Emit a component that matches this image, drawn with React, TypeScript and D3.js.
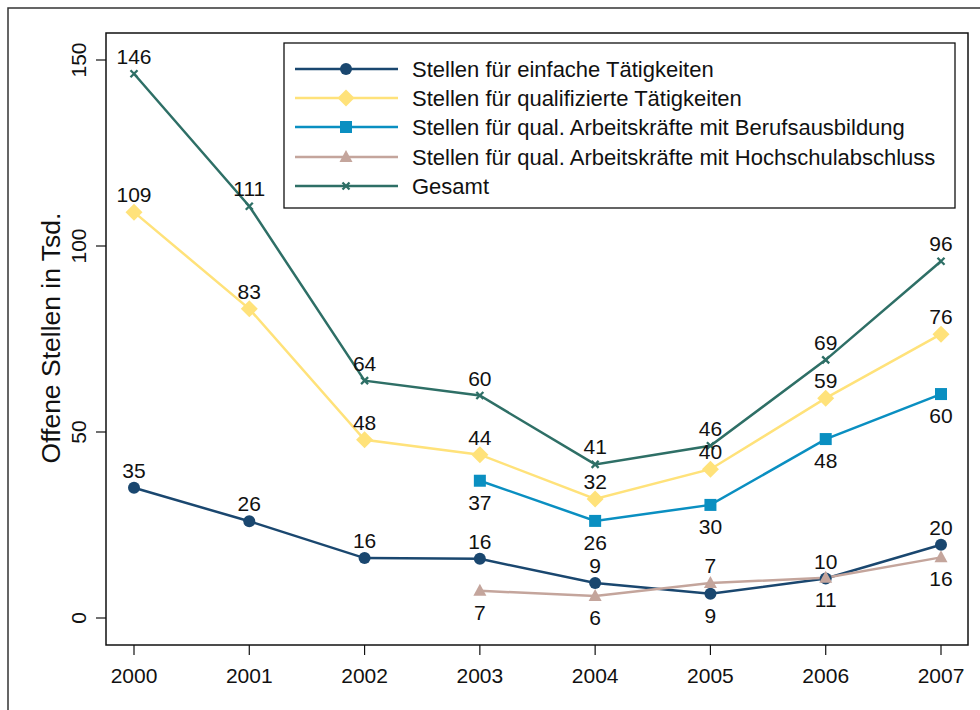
import React from "react";
import * as d3 from "d3";

const years = [2000, 2001, 2002, 2003, 2004, 2005, 2006, 2007];
const yTicks = [0, 50, 100, 150];

const einfach = [35, 26, 16.1, 15.9, 9.4, 6.5, 10.6, 19.7];
const einfachLabels = ["35", "26", "16", "16", "9", "9", "10", "20"];
const einfachPos = ["a", "a", "a", "a", "a", "b", "a", "a"];

const qualifiziert = [109.1, 83.1, 47.9, 43.9, 32, 40, 59.1, 76.3];
const qualifiziertLabels = ["109", "83", "48", "44", "32", "40", "59", "76"];
const qualifiziertPos = ["a", "a", "a", "a", "a", "a", "a", "a"];

const beruf = [null, null, null, 36.9, 26.1, 30.4, 48.1, 60.2];
const berufLabels = ["", "", "", "37", "26", "30", "48", "60"];
const berufPos = ["b", "b", "b", "b", "b", "b", "b", "b"];

const hochschul = [null, null, null, 7.3, 5.9, 9.4, 10.8, 16.3];
const hochschulLabels = ["", "", "", "7", "6", "7", "11", "16"];
const hochschulPos = ["b", "b", "b", "b", "b", "a", "b", "b"];

const gesamt = [146.3, 110.7, 63.8, 59.8, 41.3, 46.3, 69.4, 95.9];
const gesamtLabels = ["146", "111", "64", "60", "41", "46", "69", "96"];
const gesamtPos = ["a", "a", "a", "a", "a", "a", "a", "a"];

const seriesNames = [
  "Stellen für einfache Tätigkeiten",
  "Stellen für qualifizierte Tätigkeiten",
  "Stellen für qual. Arbeitskräfte mit Berufsausbildung",
  "Stellen für qual. Arbeitskräfte mit Hochschulabschluss",
  "Gesamt",
];

const FONT = "'Liberation Sans', Arial, Helvetica, sans-serif";

type S = {
  name: string;
  values: (number | null)[];
  labels: string[];
  pos: string[];
  color: string;
  marker: string;
};

const series: S[] = [
  { name: seriesNames[0], values: einfach, labels: einfachLabels, pos: einfachPos, color: "#1a476f", marker: "circle" },
  { name: seriesNames[1], values: qualifiziert, labels: qualifiziertLabels, pos: qualifiziertPos, color: "#ffe27a", marker: "diamond" },
  { name: seriesNames[2], values: beruf, labels: berufLabels, pos: berufPos, color: "#0a8fc1", marker: "square" },
  { name: seriesNames[3], values: hochschul, labels: hochschulLabels, pos: hochschulPos, color: "#c4a59c", marker: "triangle" },
  { name: seriesNames[4], values: gesamt, labels: gesamtLabels, pos: gesamtPos, color: "#2e6f66", marker: "x" },
];

function Marker({ type, x, y, color }: { type: string; x: number; y: number; color: string }) {
  if (type === "circle") return <circle cx={x} cy={y} r={6} fill={color} />;
  if (type === "diamond")
    return <path d={`M${x},${y - 8.5}L${x + 8.5},${y}L${x},${y + 8.5}L${x - 8.5},${y}Z`} fill={color} />;
  if (type === "square") return <rect x={x - 6} y={y - 6} width={12} height={12} fill={color} />;
  if (type === "triangle")
    return <path d={`M${x},${y - 7}L${x + 6.5},${y + 5}L${x - 6.5},${y + 5}Z`} fill={color} />;
  return (
    <path
      d={`M${x - 3.5},${y - 3.5}L${x + 3.5},${y + 3.5}M${x - 3.5},${y + 3.5}L${x + 3.5},${y - 3.5}`}
      stroke={color}
      strokeWidth={2.3}
    />
  );
}

export default function App() {
  const W = 980;
  const H = 710;
  const frame = { l: 106, r: 968, t: 33, b: 645 };
  const x = d3.scaleLinear().domain([2000, 2007]).range([134, 941]);
  const y = d3.scaleLinear().domain([0, 150]).range([618, 60]);

  const line = d3
    .line<[number, number | null]>()
    .defined((d) => d[1] !== null)
    .x((d) => x(d[0]))
    .y((d) => y(d[1] as number));

  const legendRows = [69, 98, 127, 157, 186];

  return (
    <svg
      width={W}
      height={H}
      style={{ position: "absolute", left: 0, top: 0, background: "#fff" }}
      fontFamily={FONT}
    >
      <rect x={0} y={0} width={W} height={H} fill="#fff" />
      <rect x={8} y={8} width={W + 10} height={H + 10} fill="none" stroke="#333" strokeWidth={1.5} />
      <rect
        x={frame.l}
        y={frame.t}
        width={frame.r - frame.l}
        height={frame.b - frame.t}
        fill="none"
        stroke="#111"
        strokeWidth={1.5}
      />
      {/* y axis */}
      {yTicks.map((t) => (
        <g key={t}>
          <line x1={96} x2={frame.l} y1={y(t)} y2={y(t)} stroke="#111" strokeWidth={1.2} />
          <text
            transform={`translate(${86},${y(t)}) rotate(-90)`}
            textAnchor="middle"
            fontSize={21}
            fill="#111"
          >
            {t}
          </text>
        </g>
      ))}
      <text
        transform={`translate(${60},${338}) rotate(-90)`}
        textAnchor="middle"
        fontSize={26.5}
        fill="#111"
      >
        Offene Stellen in Tsd.
      </text>
      {/* x axis */}
      {years.map((yr) => (
        <g key={yr}>
          <line x1={x(yr)} x2={x(yr)} y1={frame.b} y2={frame.b + 10} stroke="#111" strokeWidth={1.2} />
          <text x={x(yr)} y={683} textAnchor="middle" fontSize={21} fill="#111">
            {yr}
          </text>
        </g>
      ))}
      {/* lines */}
      {series.map((s) => (
        <path
          key={s.name}
          d={line(years.map((yr, i) => [yr, s.values[i]] as [number, number | null])) || ""}
          fill="none"
          stroke={s.color}
          strokeWidth={2.5}
        />
      ))}
      {series.map((s) =>
        years.map((yr, i) =>
          s.values[i] === null ? null : (
            <Marker key={s.name + yr} type={s.marker} x={x(yr)} y={y(s.values[i] as number)} color={s.color} />
          )
        )
      )}
      {series.map((s) =>
        years.map((yr, i) =>
          s.values[i] === null ? null : (
            <text
              key={"l" + s.name + yr}
              x={x(yr)}
              y={y(s.values[i] as number) + (s.pos[i] === "a" ? -10 : 29)}
              textAnchor="middle"
              fontSize={21}
              fill="#111"
            >
              {s.labels[i]}
            </text>
          )
        )
      )}
      {/* legend */}
      <rect x={284} y={43} width={671} height={165} fill="#fff" stroke="#111" strokeWidth={1.3} />
      {series.map((s, i) => (
        <g key={"lg" + s.name}>
          <line x1={295} x2={398} y1={legendRows[i]} y2={legendRows[i]} stroke={s.color} strokeWidth={2.5} />
          <Marker type={s.marker} x={346} y={legendRows[i]} color={s.color} />
          <text x={412} y={legendRows[i] + 7.5} fontSize={22} fill="#111">
            {s.name}
          </text>
        </g>
      ))}
    </svg>
  );
}
